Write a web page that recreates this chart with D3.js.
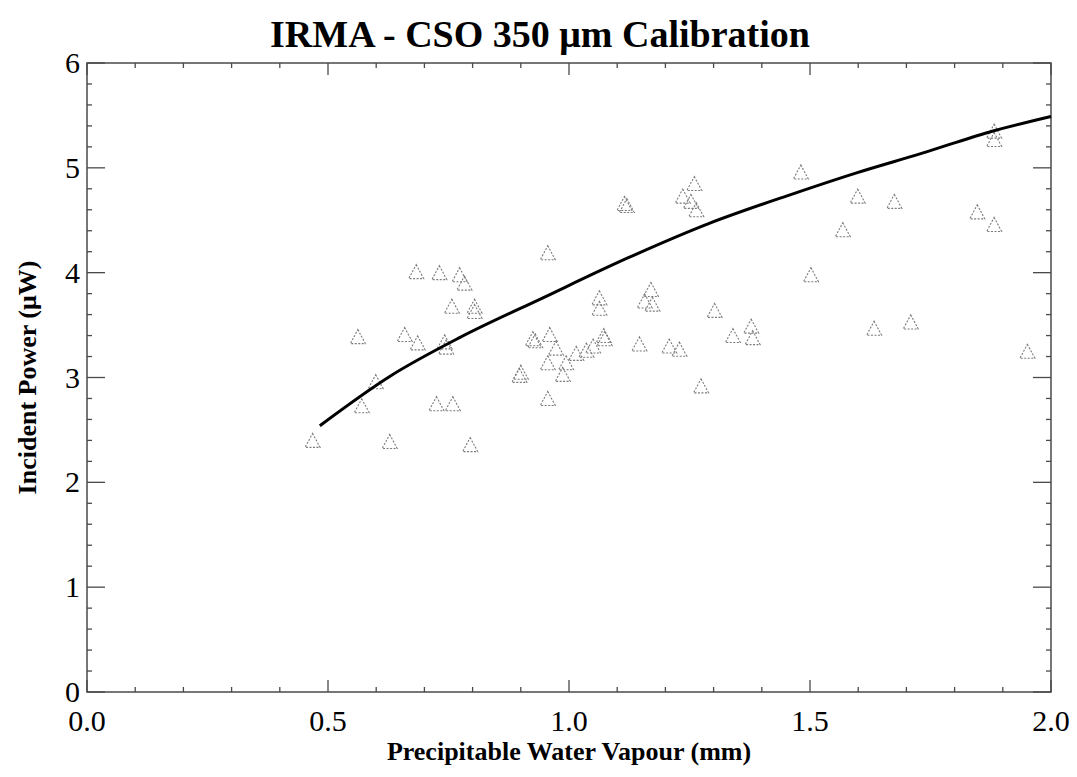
<!DOCTYPE html>
<html>
<head>
<meta charset="utf-8">
<script src="https://cdn.jsdelivr.net/npm/d3@7"></script>
<style>
  html, body { margin: 0; padding: 0; background: #fff; }
  svg text { font-family: "Liberation Serif", "Times New Roman", serif; fill: #000; }
</style>
</head>
<body>
<svg id="chart" width="1077" height="777"></svg>
<script>
// ---- data ----
const titleText = "IRMA - CSO 350 \u03bcm Calibration";
const xTitle = "Precipitable Water Vapour (mm)";
const yTitle = "Incident Power (\u03bcW)";

const xTicks = [0.0, 0.5, 1.0, 1.5, 2.0];
const xTickLabels = ["0.0", "0.5", "1.0", "1.5", "2.0"];
const yTicks = [0, 1, 2, 3, 4, 5, 6];
const yTickLabels = ["0", "1", "2", "3", "4", "5", "6"];

// measured points: precipitable water vapour (mm)
const pwv = [0.468, 0.628, 0.795, 0.570, 0.599, 0.562, 0.659, 0.686, 0.742, 0.745,
             0.725, 0.759, 0.683, 0.731, 0.773, 0.783, 0.757, 0.804, 0.804, 0.956,
             1.063, 1.063, 0.925, 0.960, 1.074, 0.897, 0.956, 0.956, 0.994, 1.015,
             1.036, 0.973, 0.987, 1.115, 1.260, 1.253, 1.264, 1.236, 1.170, 1.173,
             1.157, 1.302, 1.146, 1.208, 1.229, 1.274, 1.340, 1.381, 1.378, 1.481,
             1.599, 1.675, 1.568, 1.502, 1.633, 1.709, 1.847, 1.882, 1.882, 1.882,
             1.951, 1.072, 0.900, 1.050, 0.930, 1.120];
// measured points: incident power (uW)
const power = [2.40, 2.39, 2.36, 2.73, 2.96, 3.39, 3.41, 3.33, 3.34, 3.29,
               2.75, 2.75, 4.01, 4.00, 3.98, 3.90, 3.68, 3.68, 3.63, 4.19,
               3.76, 3.66, 3.37, 3.41, 3.37, 3.02, 2.80, 3.14, 3.14, 3.23,
               3.26, 3.28, 3.03, 4.66, 4.85, 4.68, 4.60, 4.73, 3.84, 3.70,
               3.73, 3.64, 3.32, 3.30, 3.27, 2.92, 3.40, 3.38, 3.49, 4.96,
               4.73, 4.68, 4.41, 3.98, 3.47, 3.53, 4.58, 4.46, 5.27, 5.35,
               3.25, 3.40, 3.05, 3.30, 3.35, 4.64];

// calibration curve
const curveX = [0.483, 0.628, 0.773, 0.946, 1.122, 1.291, 1.457, 1.595, 1.733, 1.871, 2.000];
const curveY = [2.54, 3.01, 3.38, 3.76, 4.14, 4.47, 4.74, 4.95, 5.14, 5.34, 5.49];

// ---- layout ----
const svg = d3.select("#chart");
const L = 87, R = 1051, T = 63, B = 692;
const x = d3.scaleLinear().domain([0, 2]).range([L, R]);
const y = d3.scaleLinear().domain([0, 6]).range([B, T]);

const axisColor = "#4a4a4a";

// frame
svg.append("rect")
  .attr("x", L).attr("y", T).attr("width", R - L).attr("height", B - T)
  .attr("fill", "none").attr("stroke", axisColor).attr("stroke-width", 1.5);

// ticks (inward, on all four sides)
const xMinor = d3.range(0, 2.0001, 0.1).filter(v => !xTicks.some(t => Math.abs(t - v) < 1e-6));
const yMinor = d3.range(0, 6.0001, 0.2).filter(v => !yTicks.some(t => Math.abs(t - v) < 1e-6));
const tickG = svg.append("g").attr("stroke", axisColor).attr("stroke-width", 1.3);

xTicks.forEach(v => {
  tickG.append("line").attr("x1", x(v)).attr("x2", x(v)).attr("y1", B).attr("y2", B - 12);
  tickG.append("line").attr("x1", x(v)).attr("x2", x(v)).attr("y1", T).attr("y2", T + 12);
});
xMinor.forEach(v => {
  tickG.append("line").attr("x1", x(v)).attr("x2", x(v)).attr("y1", B).attr("y2", B - 5);
  tickG.append("line").attr("x1", x(v)).attr("x2", x(v)).attr("y1", T).attr("y2", T + 5);
});
yTicks.forEach(v => {
  tickG.append("line").attr("x1", L).attr("x2", L + 18).attr("y1", y(v)).attr("y2", y(v));
  tickG.append("line").attr("x1", R).attr("x2", R - 18).attr("y1", y(v)).attr("y2", y(v));
});
yMinor.forEach(v => {
  tickG.append("line").attr("x1", L).attr("x2", L + 5).attr("y1", y(v)).attr("y2", y(v));
  tickG.append("line").attr("x1", R).attr("x2", R - 5).attr("y1", y(v)).attr("y2", y(v));
});

// tick labels
xTicks.forEach((v, i) => {
  svg.append("text").attr("x", x(v)).attr("y", B + 39)
    .attr("text-anchor", "middle").attr("font-size", 30).text(xTickLabels[i]);
});
yTicks.forEach((v, i) => {
  svg.append("text").attr("x", L - 7).attr("y", y(v) + 10)
    .attr("text-anchor", "end").attr("font-size", 30).text(yTickLabels[i]);
});

// titles
svg.append("text").attr("x", (L + R) / 2 - 29).attr("y", 47)
  .attr("text-anchor", "middle").attr("font-size", 38).attr("font-weight", "bold").text(titleText);
svg.append("text").attr("x", (L + R) / 2).attr("y", 760)
  .attr("text-anchor", "middle").attr("font-size", 26).attr("font-weight", "bold").text(xTitle);
svg.append("text")
  .attr("transform", `translate(36,${(T + B) / 2}) rotate(-90)`)
  .attr("text-anchor", "middle").attr("font-size", 26).attr("font-weight", "bold").text(yTitle);

// scatter triangles
const pts = pwv.map((v, i) => ({ x: v, y: power[i] }));
const tri = "M0,-7L7.5,7L-7.5,7Z";
svg.append("g").selectAll("path").data(pts).join("path")
  .attr("d", tri)
  .attr("transform", d => `translate(${x(d.x)},${y(d.y)})`)
  .attr("fill", "none").attr("stroke", "#7a7a7a").attr("stroke-width", 1.1)
  .attr("stroke-dasharray", "2,1.5");

// calibration curve
const line = d3.line().x(d => x(d[0])).y(d => y(d[1])).curve(d3.curveMonotoneX);
svg.append("path").datum(curveX.map((v, i) => [v, curveY[i]]))
  .attr("d", line).attr("fill", "none").attr("stroke", "#000").attr("stroke-width", 3);
</script>
</body>
</html>
